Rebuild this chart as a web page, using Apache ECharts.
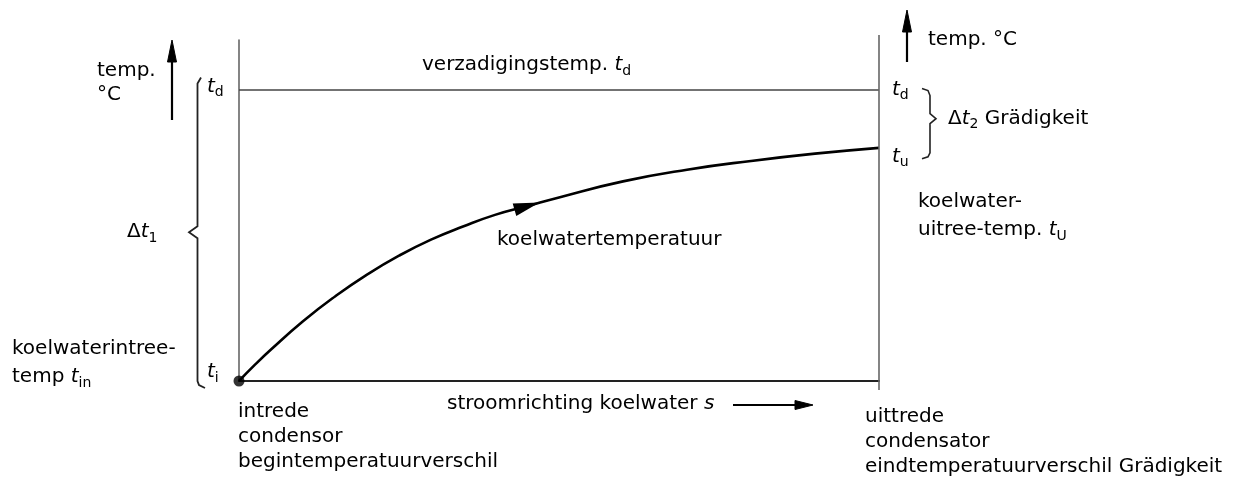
<!DOCTYPE html>
<html><head><meta charset="utf-8">
<script src="https://cdn.jsdelivr.net/npm/echarts@6/dist/echarts.min.js"></script>
<style>html,body{margin:0;padding:0;background:#fff}#c{width:1241px;height:480px}</style>
</head><body><div id="c"></div>
<script>
// Data (flow position s in % of condenser length, temperature in % of td - ti)
const flowPosition = [0, 2.5, 5, 10, 15, 20, 25, 30, 35, 40, 45, 50, 60, 70, 80, 90, 100];
const coolingWaterTemp = [0, 5.6, 10.8, 20.5, 29, 36.5, 43, 48.5, 53, 57, 60, 63, 68.5, 72.5, 75.5, 78, 80];
const saturationTemp = 100;   // t_d
const inletTemp = 0;          // t_i
const flowArrowIndex = 10;    // point on the curve carrying the direction arrow

const chart = echarts.init(document.getElementById('c'), null, {renderer: 'canvas'});
const FONT = 'DejaVu Sans';
const FS = 20;
const INK = '#000';

const curveData = flowPosition.map((s, i) => [s, coolingWaterTemp[i]]);

chart.setOption({
  animation: false,
  backgroundColor: '#fff',
  grid: {left: 239, right: 362, top: 40, bottom: 99, containLabel: false},
  xAxis: {
    type: 'value', min: 0, max: 100,
    axisLine: {show: true, onZero: false, lineStyle: {color: '#222', width: 2}},
    axisTick: {show: false}, axisLabel: {show: false}, splitLine: {show: false}
  },
  yAxis: {
    type: 'value', min: 0, max: 117,
    axisLine: {show: true, onZero: false, lineStyle: {color: '#666', width: 1.6}},
    axisTick: {show: false}, axisLabel: {show: false}, splitLine: {show: false}
  },
  series: [
    {
      type: 'line', data: curveData, smooth: true, showSymbol: false,
      lineStyle: {color: '#000', width: 2.6}, z: 3,
      markLine: {
        silent: true, symbol: 'none', label: {show: false},
        lineStyle: {color: '#444', width: 1.5, type: 'solid'},
        data: [{yAxis: saturationTemp}]
      }
    },
    {
      type: 'scatter', data: [[flowPosition[0], inletTemp]],
      symbol: 'circle', symbolSize: 11, itemStyle: {color: '#000'}, z: 4
    },
    {
      type: 'scatter', data: [[flowPosition[flowArrowIndex], coolingWaterTemp[flowArrowIndex]]],
      symbol: 'triangle', symbolSize: [13, 26], symbolRotate: -74,
      itemStyle: {color: '#000', opacity: 1}, z: 4
    }
  ]
});

function px(s, t) { return chart.convertToPixel({gridIndex: 0}, [s, t]); }
const [x0, yTi] = px(0, inletTemp);
const [x1, yTd] = px(100, saturationTemp);
const yTu = px(100, coolingWaterTemp[coolingWaterTemp.length - 1])[1];

const rich = {
  n: {fontSize: FS, fontFamily: FONT, fill: INK, lineHeight: 26, verticalAlign: 'middle'},
  i: {fontSize: FS, fontFamily: FONT, fontStyle: 'italic', fill: INK, lineHeight: 26, verticalAlign: 'middle'},
  s: {fontSize: 14, fontFamily: FONT, fill: INK, lineHeight: 14, verticalAlign: 'bottom'}
};
function txt(x, y, text) {
  return {type: 'text', x: x, y: y, z: 10, silent: true,
    style: {text: text, rich: rich, font: FS + 'px "' + FONT + '"', fill: INK,
      align: 'left', verticalAlign: 'middle', textAlign: 'left', textVerticalAlign: 'middle'}};
}
function line(pts, w, c) {
  return {type: 'polyline', z: 9, silent: true, shape: {points: pts}, style: {stroke: c || '#111', lineWidth: w || 1.8, fill: null}};
}
function tri(pts) {
  return {type: 'polygon', z: 9, silent: true, shape: {points: pts}, style: {fill: '#000', stroke: '#000', lineWidth: 1}};
}

const midL = (yTd - 12 + yTi + 6) / 2;
const midR = (yTd + yTu) / 2;

const graphic = [
  // right vertical axis
  line([[x1, 35], [x1, 390]], 1.6, '#666'),
  // left up arrow
  line([[172, 58], [172, 120]], 2.2, '#000'),
  tri([[172, 40], [167.5, 62], [176.5, 62]]),
  // right up arrow
  line([[907, 28], [907, 62]], 2.2, '#000'),
  tri([[907, 10], [902.5, 32], [911.5, 32]]),
  // flow direction arrow
  line([[733, 405], [798, 405]], 1.8, '#000'),
  tri([[813, 405], [795, 400.5], [795, 409.5]]),
  // left brace (t_i .. t_d)
  line([[201, yTd - 12], [197.5, yTd - 6], [197.5, midL - 6], [189, midL], [197.5, midL + 6], [197.5, yTi], [199, yTi + 4], [205, yTi + 7]], 1.8, '#222'),
  // right brace (t_u .. t_d)
  line([[922, yTd - 1], [928, yTd + 1], [930, yTd + 6], [930, midR - 5], [936, midR], [930, midR + 5], [930, yTu + 5], [928, yTu + 9], [922, yTu + 11]], 1.6, '#222'),
  // left texts
  txt(97, 71, '{n|temp.}'),
  txt(97, 95, '{n|°C}'),
  txt(207, yTd - 3, '{i|t}{s|d}'),
  txt(127, midL, '{n|Δ}{i|t}{s|1}'),
  txt(12, 349, '{n|koelwaterintree-}'),
  txt(12, 377, '{n|temp }{i|t}{s|in}'),
  txt(207, yTi - 9, '{i|t}{s|i}'),
  txt(238, 412, '{n|intrede}'),
  txt(238, 437, '{n|condensor}'),
  txt(238, 462, '{n|begintemperatuurverschil}'),
  // middle texts
  txt(422, 65, '{n|verzadigingstemp. }{i|t}{s|d}'),
  txt(497, 240, '{n|koelwatertemperatuur}'),
  txt(447, 404, '{n|stroomrichting koelwater }{i|s}'),
  // right texts
  txt(928, 40, '{n|temp. °C}'),
  txt(892, yTd, '{i|t}{s|d}'),
  txt(892, yTu + 9, '{i|t}{s|u}'),
  txt(948, midR, '{n|Δ}{i|t}{s|2}{n| Grädigkeit}'),
  txt(918, 202, '{n|koelwater-}'),
  txt(918, 230, '{n|uitree-temp. }{i|t}{s|U}'),
  txt(865, 417, '{n|uittrede}'),
  txt(865, 442, '{n|condensator}'),
  txt(865, 467, '{n|eindtemperatuurverschil Grädigkeit}')
];
chart.setOption({graphic: graphic});
</script>
</body></html>
